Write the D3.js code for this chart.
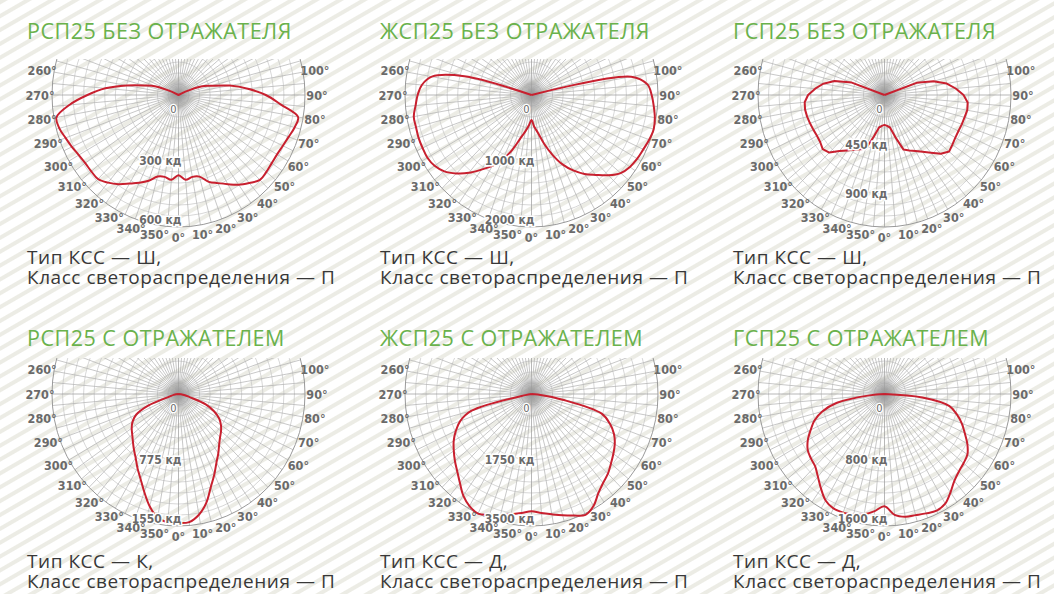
<!DOCTYPE html>
<html>
<head>
<meta charset="utf-8">
<script src="https://d3js.org/d3.v7.min.js"></script>
<style>
  body { margin: 0; background: #fff; }
  .title { font-family: "Open Sans", sans-serif; font-weight: 400; font-size: 21.5px; letter-spacing: 0.5px; fill: #6ab24c; }
  .note { font-family: "Open Sans", sans-serif; font-size: 19px; letter-spacing: 0.55px; fill: #383838; }
  .deg, .kd { font-family: "Liberation Sans Narrow", "DejaVu Sans Condensed", sans-serif; font-weight: 700; font-size: 12.5px; fill: #6a6a6a; }
  .kd { font-size: 12px; }
</style>
</head>
<body>
<svg width="1054" height="594"></svg>
<script>

// angles of the curves, degrees from nadir
var angles = [0,5,10,15,20,25,30,35,40,45,50,55,60,65,70,75,80,85,90,95,100,105,110,115,120];

var titles = ["РСП25 БЕЗ ОТРАЖАТЕЛЯ", "ЖСП25 БЕЗ ОТРАЖАТЕЛЯ", "ГСП25 БЕЗ ОТРАЖАТЕЛЯ",
              "РСП25 С ОТРАЖАТЕЛЕМ", "ЖСП25 С ОТРАЖАТЕЛЕМ", "ГСП25 С ОТРАЖАТЕЛЕМ"];
var kssTypes = ["Ш", "Ш", "Ш", "К", "Д", "Д"];
var lightClass = ["П", "П", "П", "П", "П", "П"];
var maxValues = [600, 2000, 1200, 1550, 3500, 1600];
var ringLabels = [[300, 600], [1000, 2000], [450, 900], [775, 1550], [1750, 3500], [800, 1600]];
var degreeTicks = [0,10,20,30,40,50,60,70,80,90,100,260,270,280,290,300,310,320,330,340,350];

// cd, right side (0..90..) and left side (0..270..)
var rspNoRefR = [365,387,378,384,420,442,468,498,522,546,544,540,540,546,556,570,576,486,414,330,246,162,114,36,0];
var rspNoRefL = [365,387,378,384,415,440,465,495,520,540,540,540,546,558,570,585,588,520,432,348,250,168,114,36,0];
var zspNoRefR = [380,480,580,760,960,1160,1320,1460,1580,1720,1840,1900,1930,1950,1980,2000,1980,1940,1900,1840,1600,0];
var zspNoRefL = [380,460,560,680,880,1080,1240,1380,1540,1680,1800,1870,1900,1900,1900,1890,1890,1840,1800,1740,1600,1100,0];
var gspNoRefR = [272,282,300,396,528,556,588,631,685,756,800,786,776,774,780,786,797,792,750,678,600,480,324,0];
var gspNoRefL = [272,282,300,390,520,545,575,615,665,740,765,745,740,745,752,760,765,760,725,660,590,490,330,0];
var rspRefR = [1515,1510,1440,1320,1160,1040,930,850,775,720,680,635,575,480,355,140,80,30,0];
var rspRefL = [1515,1510,1475,1365,1225,1100,1005,915,850,790,740,700,650,570,390,110,60,30,0];
var zspRefR = [3110,3170,3240,3330,3430,3535,3430,3220,3080,2990,2870,2765,2660,2520,2310,2010,875,175,0];
var zspRefL = [3110,3170,3240,3330,3410,3500,3430,3290,3080,2905,2765,2625,2485,2310,2100,1715,175,0];
var gspRefR = [1360,1470,1510,1520,1540,1560,1535,1455,1375,1330,1305,1280,1210,1120,1040,945,830,480,0];
var gspRefL = [1360,1425,1480,1515,1530,1530,1490,1400,1310,1240,1215,1185,1120,1030,945,815,610,190,0];

var rightSides = [rspNoRefR, zspNoRefR, gspNoRefR, rspRefR, zspRefR, gspRefR];
var leftSides = [rspNoRefL, zspNoRefL, gspNoRefL, rspRefL, zspRefL, gspRefL];
var smooth = [true, true, false, true, true, true];

var svg = d3.select("svg"),
    rx = 126.5, ry = 132, rings = 12, topCut = 36;

var defs = svg.append("defs");
var pat = defs.append("pattern")
    .attr("id", "stripes")
    .attr("width", 12).attr("height", 12)
    .attr("patternUnits", "userSpaceOnUse")
    .attr("patternTransform", "rotate(-30)");
pat.append("rect").attr("width", 12).attr("height", 12).attr("fill", "#fff");
pat.append("rect").attr("width", 12).attr("height", 4).attr("fill", "#ecece5");

var grad = defs.append("radialGradient").attr("id", "hub");
grad.append("stop").attr("offset", "0%").attr("stop-color", "#8a8a8a").attr("stop-opacity", 0.6);
grad.append("stop").attr("offset", "100%").attr("stop-color", "#8a8a8a").attr("stop-opacity", 0);

svg.append("rect").attr("width", 1054).attr("height", 594).attr("fill", "url(#stripes)");

titles.forEach(function(title, i) {
  var col = i % 3, row = Math.floor(i / 3),
      ox = col * 353,
      cx = ox + 178.5,
      cy = 95 + row * 299;

  var rho = d3.scaleLinear().domain([0, maxValues[i]]).range([0, 1]);
  function px(a, v) { return rx * rho(v) * Math.sin(a * Math.PI / 180); }
  function py(a, v) { return ry * rho(v) * Math.cos(a * Math.PI / 180); }

  svg.append("text").attr("class", "title")
      .attr("x", ox + 27).attr("y", 39 + row * 306.5)
      .text(title);

  var note = svg.append("text").attr("class", "note");
  note.append("tspan").attr("x", ox + 27).attr("y", 264 + row * 304)
      .text("Тип КСС — " + kssTypes[i] + ",");
  note.append("tspan").attr("x", ox + 27).attr("y", 284 + row * 304)
      .text("Класс светораспределения — " + lightClass[i]);

  defs.append("clipPath").attr("id", "clip" + i)
    .append("rect")
      .attr("x", -rx - 2).attr("y", -topCut)
      .attr("width", 2 * rx + 4).attr("height", ry + topCut + 2);

  var g = svg.append("g").attr("transform", "translate(" + cx + "," + cy + ")");
  var grid = g.append("g").attr("clip-path", "url(#clip" + i + ")");

  grid.selectAll(".ring")
    .data(d3.range(1, rings))
    .enter().append("ellipse")
      .attr("rx", function(k) { return rx * k / rings; })
      .attr("ry", function(k) { return ry * k / rings; })
      .attr("fill", "none")
      .attr("stroke", "#c6c6c6")
      .attr("stroke-width", 0.7);

  grid.selectAll(".spoke")
    .data(d3.range(0, 360, 5))
    .enter().append("line")
      .attr("x2", function(a) { return rx * Math.sin(a * Math.PI / 180); })
      .attr("y2", function(a) { return ry * Math.cos(a * Math.PI / 180); })
      .attr("stroke", function(a) { return a % 90 === 0 ? "#999" : "#b0b0b0"; })
      .attr("stroke-width", 0.7);

  grid.append("ellipse")
      .attr("rx", rx).attr("ry", ry)
      .attr("fill", "none")
      .attr("stroke", "#9a9a9a")
      .attr("stroke-width", 1);

  g.append("circle").attr("r", 17).attr("fill", "url(#hub)");

  // curve: left side from the top down to nadir, then right side up
  var pts = [];
  leftSides[i].forEach(function(v, k) { pts.push([-angles[k], v]); });
  pts.reverse();
  rightSides[i].forEach(function(v, k) { if (k > 0) pts.push([angles[k], v]); });

  var line = d3.line()
      .x(function(d) { return px(d[0], d[1]); })
      .y(function(d) { return py(d[0], d[1]); })
      .curve(smooth[i] ? d3.curveCatmullRom.alpha(0.5) : d3.curveLinear);

  g.append("path")
      .attr("d", line(pts))
      .attr("fill", "none")
      .attr("stroke", "#c8202f")
      .attr("stroke-width", 2)
      .attr("stroke-linejoin", "round");

  g.append("text").attr("class", "kd")
      .attr("x", -5).attr("y", 18)
      .attr("text-anchor", "middle")
      .style("font-weight", "normal")
      .style("font-size", "11px")
      .attr("stroke", "#fff").attr("stroke-width", 2.5).attr("paint-order", "stroke")
      .text("0");

  g.selectAll(".kdl")
    .data(ringLabels[i])
    .enter().append("text")
      .attr("class", "kd")
      .attr("x", 3)
      .attr("y", function(v) { return py(0, v) + (v === maxValues[i] ? -3 : 4); })
      .attr("text-anchor", "end")
      .attr("stroke", "#fff").attr("stroke-width", 3).attr("paint-order", "stroke")
      .text(function(v) { return v + " кд"; });

  g.selectAll(".deg")
    .data(degreeTicks)
    .enter().append("text")
      .attr("class", "deg")
      .attr("x", function(a) { return (rx + 12) * Math.sin(a * Math.PI / 180); })
      .attr("y", function(a) { return (ry + 10) * Math.cos(a * Math.PI / 180); })
      .attr("text-anchor", "middle")
      .attr("dominant-baseline", "central")
      .text(function(a) { return a + "°"; });
});

</script>
</body>
</html>
